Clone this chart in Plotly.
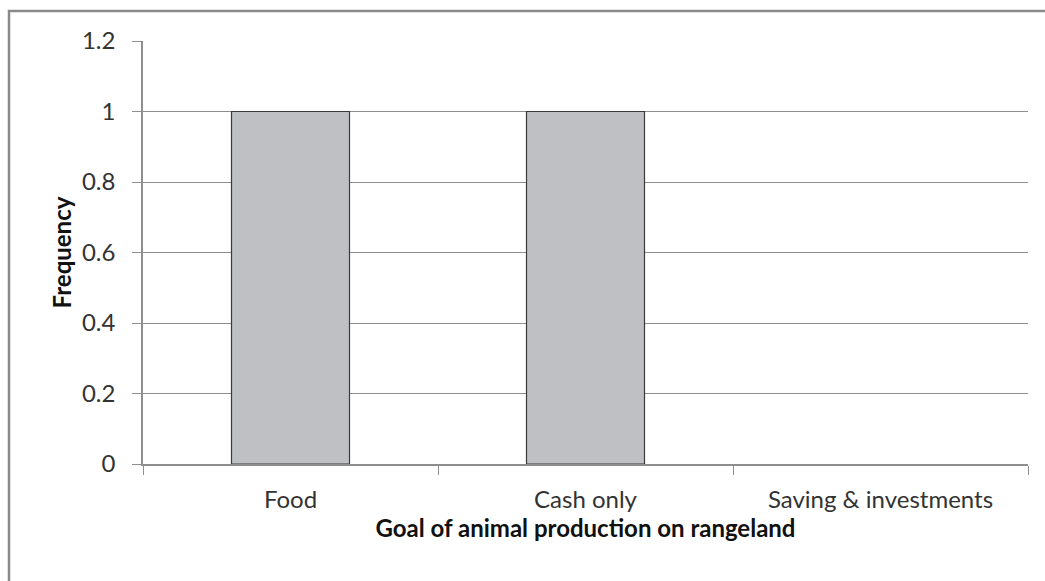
import plotly.graph_objects as go

# Goal of animal production on rangeland: response frequency
categories = ["Food", "Cash only", "Saving & investments"]
frequency = [1, 1, 0]
y_ticks = [0, 0.2, 0.4, 0.6, 0.8, 1, 1.2]
y_tick_labels = ["0", "0.2", "0.4", "0.6", "0.8", "1", "1.2"]

FONT = "Lato, 'Open Sans', sans-serif"
GRID = "#8e8e8e"

# no outline on empty bars
outline_widths = [1.2 if v > 0 else 0 for v in frequency]

fig = go.Figure(
    go.Bar(
        x=categories,
        y=frequency,
        marker=dict(color="#bfc0c4", line=dict(color="#3a3a3a", width=outline_widths)),
        hoverinfo="x+y",
    )
)

W, H = 1045, 581
L, R, T, B = 143, 17, 41, 117
plot_w = W - L - R
plot_h = H - T - B

fig.update_layout(
    width=W,
    height=H,
    margin=dict(l=L, r=R, t=T, b=B),
    paper_bgcolor="white",
    plot_bgcolor="white",
    bargap=0.6,
    showlegend=False,
    font=dict(family=FONT, size=24, color="#222"),
    xaxis=dict(
        type="category",
        tickson="boundaries",
        ticks="outside",
        ticklen=9,
        tickcolor=GRID,
        showline=True,
        linecolor=GRID,
        linewidth=1.5,
        showgrid=False,
        tickfont=dict(size=24, color="#333"),
        ticklabelstandoff=13,
        title=dict(
            text="<b>Goal of animal production on rangeland</b>",
            font=dict(size=24, color="#111"),
            standoff=1,
        ),
    ),
    yaxis=dict(
        range=[0, 1.2],
        tickvals=y_ticks,
        ticktext=y_tick_labels,
        ticks="outside",
        ticklen=9,
        tickcolor=GRID,
        showline=True,
        linecolor=GRID,
        linewidth=1.5,
        showgrid=True,
        gridcolor=GRID,
        gridwidth=1.3,
        zeroline=False,
        tickfont=dict(size=24, color="#333"),
        ticklabelstandoff=12,
        title=dict(
            text="<b>Frequency</b>",
            font=dict(size=24, color="#111"),
            standoff=4,
        ),
    ),
)

# Chart-area frame (runs off the right and bottom edges of the page)
fig.add_shape(
    type="rect",
    xref="paper",
    yref="paper",
    x0=(9 - L) / plot_w,
    x1=(W + 20 - L) / plot_w,
    y0=-(H + 20 - T - plot_h) / plot_h,
    y1=(H - B - 11) / plot_h,
    line=dict(color="#8a8a8a", width=2.5),
    fillcolor="rgba(0,0,0,0)",
    layer="below",
)

fig.write_html("out.html")
